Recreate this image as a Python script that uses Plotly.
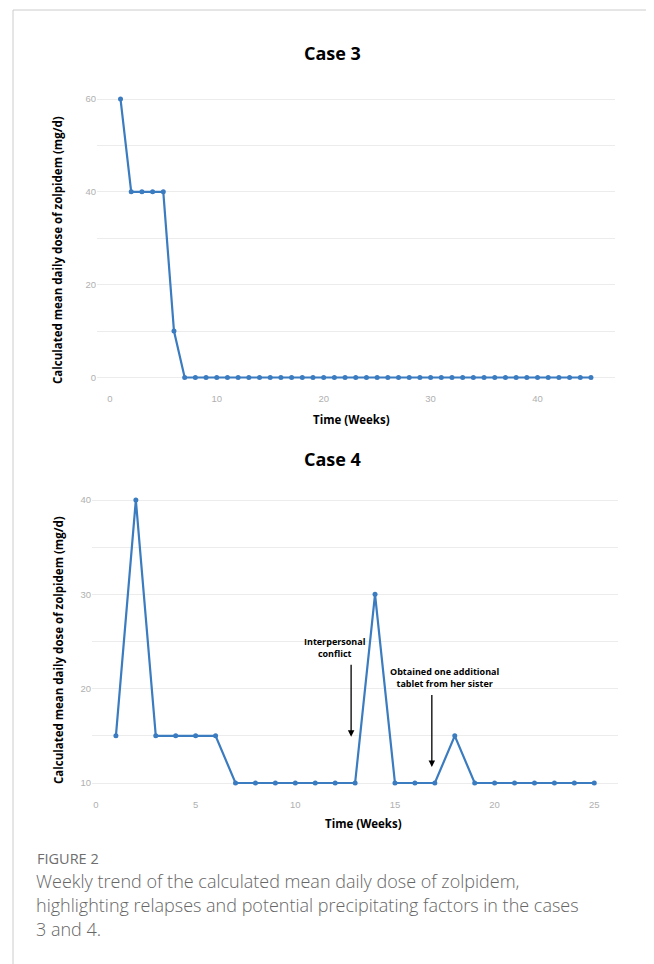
import plotly.graph_objects as go

# ---------------- data ----------------
weeks_case3 = [1, 2, 3, 4, 5, 6, 7, 8, 9, 10, 11, 12, 13, 14, 15, 16, 17, 18, 19, 20,
               21, 22, 23, 24, 25, 26, 27, 28, 29, 30, 31, 32, 33, 34, 35, 36, 37, 38,
               39, 40, 41, 42, 43, 44, 45]
dose_case3 = [60, 40, 40, 40, 40, 10, 0, 0, 0, 0, 0, 0, 0, 0, 0, 0, 0, 0, 0, 0,
              0, 0, 0, 0, 0, 0, 0, 0, 0, 0, 0, 0, 0, 0, 0, 0, 0, 0,
              0, 0, 0, 0, 0, 0, 0]

weeks_case4 = [1, 2, 3, 4, 5, 6, 7, 8, 9, 10, 11, 12, 13, 14, 15, 16, 17, 18, 19, 20,
               21, 22, 23, 24, 25]
dose_case4 = [15, 40, 15, 15, 15, 15, 10, 10, 10, 10, 10, 10, 10, 30, 10, 10, 10, 15, 10, 10,
              10, 10, 10, 10, 10]

x_ticks_case3 = [0, 10, 20, 30, 40]
y_ticks_case3 = [0, 20, 40, 60]
x_ticks_case4 = [0, 5, 10, 15, 20, 25]
y_ticks_case4 = [10, 20, 30, 40]

title_case3 = "Case 3"
title_case4 = "Case 4"
x_title = "Time (Weeks)"
y_title = "Calculated mean daily dose of zolpidem (mg/d)"

events_text = ["Interpersonal<br>conflict", "Obtained one additional<br>tablet from her sister"]
events_week = [12.8, 16.85]
events_arrow_tip = [14.9, 11.7]
events_arrow_tail = [22.7, 19.5]
events_text_week = [12.0, 17.5]
events_text_y = [24.4, 21.2]

caption_label = "FIGURE 2"
caption_lines = [
    "Weekly trend of the calculated mean daily dose of zolpidem,",
    "highlighting relapses and potential precipitating factors in the cases",
    "3 and 4.",
]

# ---------------- figure ----------------
# The page body has an 8px default margin; the figure is sized and positioned
# so that it fills the 654x964 window exactly.
OFF = 8
W, H = 654 - OFF, 964 - OFF
LINE = "#3b7bbf"
GRID = "#ececec"
TICK = "#b0b0b0"


def px_x(p):
    return (p - OFF) / W


def px_y(p):
    return 1 - (p - OFF) / H


fig = go.Figure()

fig.add_trace(go.Scatter(
    x=weeks_case3, y=dose_case3, mode="lines+markers",
    line=dict(color=LINE, width=2.2), marker=dict(color=LINE, size=5),
    xaxis="x", yaxis="y", showlegend=False, hoverinfo="x+y"))

fig.add_trace(go.Scatter(
    x=weeks_case4, y=dose_case4, mode="lines+markers",
    line=dict(color=LINE, width=2.2), marker=dict(color=LINE, size=5),
    xaxis="x2", yaxis="y2", showlegend=False, hoverinfo="x+y"))

tickfont = dict(family="Liberation Sans, Arial, sans-serif", size=9.5, color=TICK)

common_x = dict(showgrid=False, zeroline=False, showline=False, ticks="",
                tickfont=tickfont)
common_y = dict(showgrid=True, gridcolor=GRID, gridwidth=1, zeroline=False,
                showline=False, ticks="", tickfont=tickfont)

fig.update_layout(
    width=W, height=H,
    margin=dict(l=0, r=0, t=0, b=0),
    paper_bgcolor="white", plot_bgcolor="white",
    font=dict(family="Open Sans, sans-serif", color="black"),
    xaxis=dict(domain=[px_x(97), px_x(614.5)], range=[-1.2, 47.2],
               tickvals=x_ticks_case3, anchor="y", **common_x),
    yaxis=dict(domain=[px_y(391.4), px_y(85.1)], range=[-3, 63],
               tickvals=y_ticks_case3, anchor="x",
               minor=dict(dtick=10, tick0=0, showgrid=True, gridcolor=GRID, gridwidth=1),
               **common_y),
    xaxis2=dict(domain=[px_x(92), px_x(618.2)], range=[-0.2, 26.2],
                tickvals=x_ticks_case4, anchor="y2", **common_x),
    yaxis2=dict(domain=[px_y(797.15), px_y(485.85)], range=[8.5, 41.5],
                tickvals=y_ticks_case4, anchor="x2",
                minor=dict(dtick=5, tick0=0, showgrid=True, gridcolor=GRID, gridwidth=1),
                **common_y),
)

ann = []
title_font = dict(family="Open Sans, sans-serif", size=18, color="black", weight="bold")
axis_font = dict(family="Open Sans, sans-serif", size=11.5, color="black", weight="bold")

ann.append(dict(text=title_case3, x=px_x(332), y=px_y(53), xref="paper", yref="paper",
                showarrow=False, font=title_font, xanchor="center", yanchor="middle"))
ann.append(dict(text=title_case4, x=px_x(332), y=px_y(459), xref="paper", yref="paper",
                showarrow=False, font=title_font, xanchor="center", yanchor="middle"))

ann.append(dict(text=x_title, x=px_x(351), y=px_y(419), xref="paper", yref="paper",
                showarrow=False, font=axis_font, xanchor="center", yanchor="middle"))
ann.append(dict(text=x_title, x=px_x(363), y=px_y(823), xref="paper", yref="paper",
                showarrow=False, font=axis_font, xanchor="center", yanchor="middle"))

ann.append(dict(text=y_title, x=px_x(58), y=px_y(250), xref="paper", yref="paper",
                showarrow=False, font=axis_font, textangle=-90,
                xanchor="center", yanchor="middle"))
ann.append(dict(text=y_title, x=px_x(58), y=px_y(650), xref="paper", yref="paper",
                showarrow=False, font=axis_font, textangle=-90,
                xanchor="center", yanchor="middle"))

event_font = dict(family="Open Sans, sans-serif", size=9, color="black", weight="bold")
for txt, wx, tip, tail, tx, ty in zip(events_text, events_week, events_arrow_tip,
                                      events_arrow_tail, events_text_week, events_text_y):
    ann.append(dict(x=wx, y=tip, ax=wx, ay=tail, xref="x2", yref="y2",
                    axref="x2", ayref="y2", text="", showarrow=True,
                    arrowhead=2, arrowsize=1, arrowwidth=1.3, arrowcolor="black"))
    ann.append(dict(x=tx, y=ty, xref="x2", yref="y2", text=txt, showarrow=False,
                    font=event_font, xanchor="center", yanchor="middle", align="center"))

ann.append(dict(text=caption_label, x=px_x(35), y=px_y(858), xref="paper", yref="paper",
                showarrow=False, xanchor="left", yanchor="middle",
                font=dict(family="Open Sans, sans-serif", size=14.5, color="#6e6e6e")))
for i, line in enumerate(caption_lines):
    ann.append(dict(text=line, x=px_x(34), y=px_y(881 + 24 * i), xref="paper", yref="paper",
                    showarrow=False, xanchor="left", yanchor="middle",
                    font=dict(family="Open Sans, sans-serif", size=18, color="#666666",
                              weight=300)))

fig.update_layout(annotations=ann)

fig.update_layout(shapes=[
    dict(type="line", xref="paper", yref="paper", x0=px_x(13), x1=1, y0=px_y(10), y1=px_y(10),
         line=dict(color="#cccccc", width=1)),
    dict(type="line", xref="paper", yref="paper", x0=px_x(13), x1=px_x(13), y0=px_y(10), y1=0,
         line=dict(color="#cccccc", width=1)),
])

fig.write_html("out.html")
